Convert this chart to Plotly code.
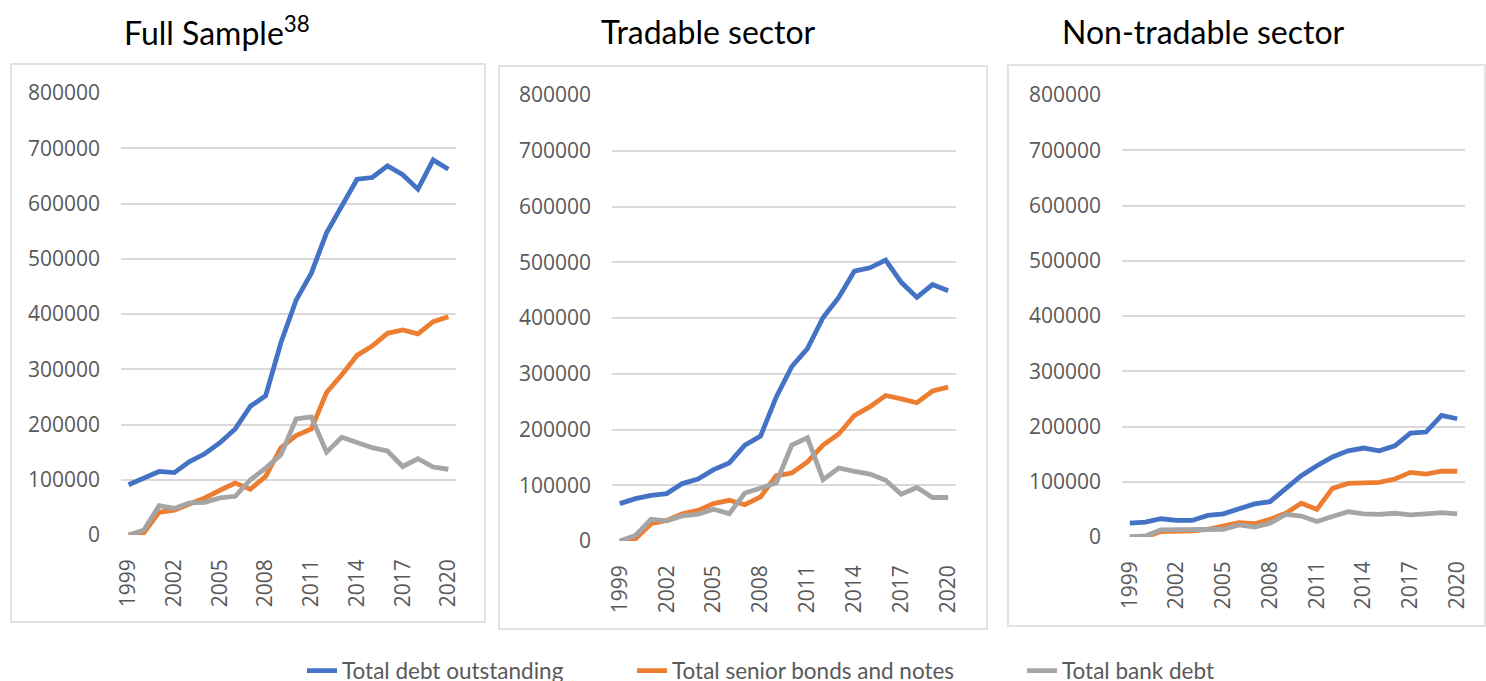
import plotly.graph_objects as go

W, H = 1486, 681

years = list(range(1999, 2021))
xtick_years = [1999, 2002, 2005, 2008, 2011, 2014, 2017, 2020]
ytick_vals = [0, 100000, 200000, 300000, 400000, 500000, 600000, 700000, 800000]

series_names = ["Total debt outstanding", "Total senior bonds and notes", "Total bank debt"]
series_colors = ["#4472C4", "#ED7D31", "#A5A5A5"]

panel_titles = ["Full Sample<sup>38</sup>", "Tradable sector", "Non-tradable sector"]

# Full sample
full_debt = [91000, 104000, 115000, 113000, 133000, 147000, 167000, 192000, 233000, 252000, 348000,
             425000, 474000, 547000, 594000, 644000, 647000, 668000, 652000, 626000, 679000, 662000]
full_bonds = [0, 4000, 41000, 45000, 56000, 67000, 81000, 94000, 83000, 106000, 158000,
              180000, 192000, 258000, 290000, 325000, 342000, 365000, 371000, 364000, 386000, 395000]
full_bank = [0, 9000, 53000, 48000, 58000, 59000, 67000, 70000, 100000, 121000, 145000,
             210000, 214000, 150000, 177000, 167000, 158000, 152000, 124000, 138000, 123000, 119000]

# Tradable sector
trad_debt = [67000, 76000, 82000, 85000, 103000, 111000, 128000, 140000, 172000, 188000, 258000,
             313000, 345000, 401000, 437000, 484000, 490000, 504000, 464000, 437000, 460000, 449000]
trad_bonds = [0, 4000, 31000, 37000, 49000, 55000, 67000, 73000, 65000, 79000, 117000,
              122000, 142000, 172000, 192000, 225000, 241000, 261000, 255000, 248000, 269000, 276000]
trad_bank = [0, 10000, 39000, 36000, 45000, 48000, 57000, 49000, 86000, 96000, 104000,
             172000, 185000, 110000, 131000, 125000, 120000, 109000, 84000, 96000, 78000, 78000]

# Non-tradable sector
nontrad_debt = [25000, 27000, 33000, 30000, 30000, 39000, 42000, 52000, 60000, 64000, 88000,
                111000, 129000, 145000, 156000, 161000, 156000, 165000, 188000, 190000, 220000, 214000]
nontrad_bonds = [0, 0, 10000, 10000, 11000, 14000, 19000, 26000, 24000, 32000, 43000,
                 61000, 50000, 88000, 97000, 99000, 99000, 105000, 117000, 114000, 119000, 119000]
nontrad_bank = [0, 2000, 13000, 13000, 14000, 14000, 14000, 22000, 18000, 25000, 41000,
                38000, 28000, 37000, 46000, 42000, 41000, 43000, 40000, 42000, 44000, 42000]

panels_data = [
    [full_debt, full_bonds, full_bank],
    [trad_debt, trad_bonds, trad_bank],
    [nontrad_debt, nontrad_bonds, nontrad_bank],
]

# layout geometry in pixels
plot_px = [  # x0, x1, ytop, ybottom
    (121, 456, 93, 535),
    (612, 956, 95, 541),
    (1122, 1465, 95, 537),
]
box_px = [
    (11, 485, 64, 622),
    (499, 987, 66, 629),
    (1008, 1485, 65, 626),
]
title_px = [(217, 31), (708, 31), (1203, 31)]

fx = lambda px: px / W
fy = lambda py: 1 - py / H

fig = go.Figure()
legend_ids = ["legend", "legend2", "legend3"]

for p, data in enumerate(panels_data):
    xa = "x" if p == 0 else f"x{p+1}"
    ya = "y" if p == 0 else f"y{p+1}"
    for s, vals in enumerate(data):
        fig.add_trace(go.Scatter(
            x=years, y=vals, mode="lines", name=series_names[s],
            line=dict(color=series_colors[s], width=4.8),
            xaxis=xa, yaxis=ya,
            showlegend=(p == 0), legend=legend_ids[s],
        ))

tick_font = dict(family="Open Sans", size=21, color="#595959")
for p in range(3):
    x0, x1, yt, yb = plot_px[p]
    sfx = "" if p == 0 else str(p + 1)
    fig.layout[f"xaxis{sfx}"] = dict(
        domain=[fx(x0), fx(x1)], range=[1998.5, 2020.5], anchor=f"y{sfx}",
        tickmode="array", tickvals=xtick_years, ticktext=[str(v) for v in xtick_years],
        tickangle=-90, tickfont=tick_font, showgrid=False, zeroline=False,
        showline=False, ticks="", ticklabelstandoff=19, fixedrange=True,
    )
    fig.layout[f"yaxis{sfx}"] = dict(
        domain=[fy(yb), fy(yt)], range=[0, 800000], anchor=f"x{sfx}",
        tickmode="array", tickvals=ytick_vals, ticktext=[str(v) for v in ytick_vals],
        tickfont=tick_font, showgrid=True, gridcolor="#D9D9D9", gridwidth=1.5,
        zeroline=False, showline=False, ticks="", ticklabelstandoff=20, fixedrange=True,
    )
    bx0, bx1, by0, by1 = box_px[p]
    fig.add_shape(type="rect", xref="paper", yref="paper",
                  x0=fx(bx0), x1=fx(bx1), y0=fy(by1), y1=fy(by0),
                  line=dict(color="#D9D9D9", width=1.5), layer="below")
    tx, ty = title_px[p]
    fig.add_annotation(text=panel_titles[p], xref="paper", yref="paper",
                       x=fx(tx), y=fy(ty), xanchor="center", yanchor="middle",
                       showarrow=False, font=dict(family="Lato", size=32, color="#000000"))

legend_text_x = [342, 672, 1062]
leg_font = dict(family="Lato", size=22.5, color="#595959")
for i, lid in enumerate(legend_ids):
    fig.layout[lid] = dict(
        x=fx(legend_text_x[i] - 40), y=fy(671), xanchor="left", yanchor="middle",
        orientation="h", font=leg_font, bgcolor="rgba(0,0,0,0)", borderwidth=0,
    )

fig.update_layout(
    width=W, height=H, autosize=False,
    margin=dict(l=0, r=0, t=0, b=0, pad=0, autoexpand=False),
    paper_bgcolor="white", plot_bgcolor="white",
    font=dict(family="Open Sans"),
)

fig.write_html("out.html", config={"displayModeBar": False},
               post_script="document.body.style.margin='0';document.body.style.overflow='hidden';")
